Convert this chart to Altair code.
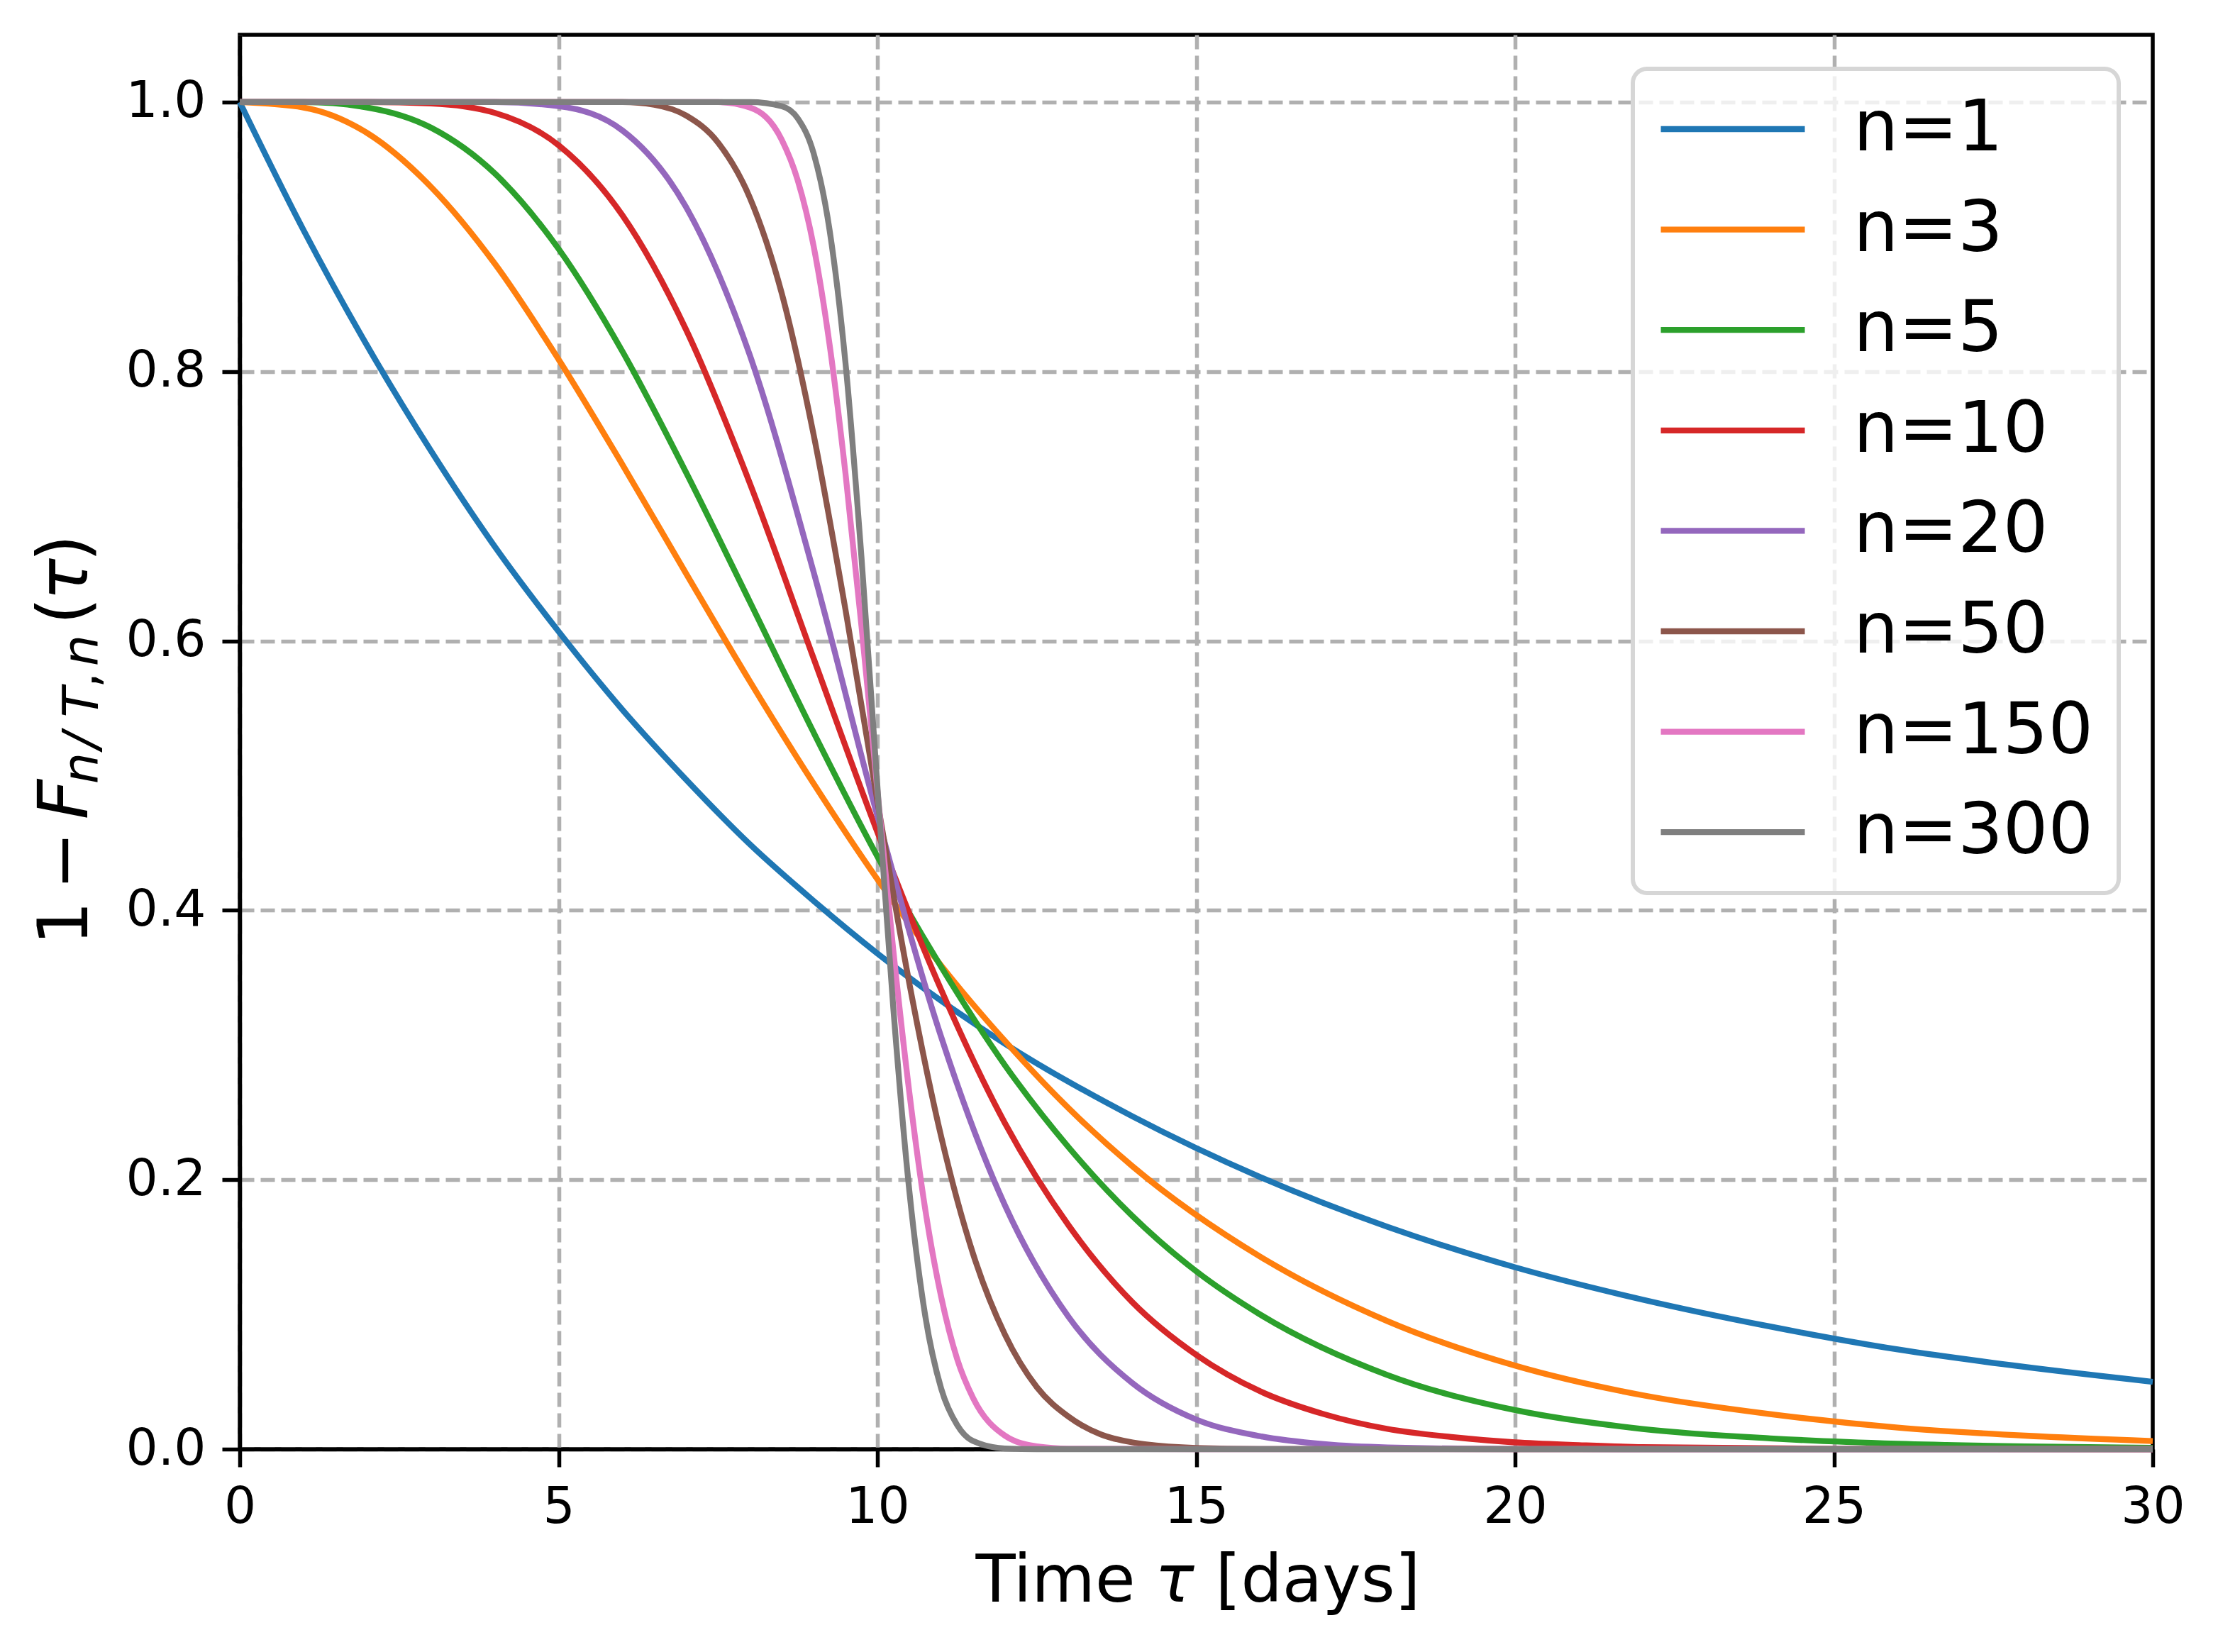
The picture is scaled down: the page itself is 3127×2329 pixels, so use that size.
import altair as alt
import pandas as pd

# ---------------- data ----------------
series_labels = ["n=1", "n=3", "n=5", "n=10", "n=20", "n=50", "n=150", "n=300"]
series_colors = ["#1f77b4", "#ff7f0e", "#2ca02c", "#d62728",
                 "#9467bd", "#8c564b", "#e377c2", "#7f7f7f"]

tau_n1 = [0, 1, 2, 3, 4, 5, 6, 7, 8, 9, 10, 12, 14, 16, 18, 20, 22, 24, 26, 28, 30]
surv_n1 = [1.0, 0.905, 0.819, 0.741, 0.670, 0.607, 0.549, 0.497, 0.449, 0.407, 0.368,
           0.301, 0.247, 0.202, 0.165, 0.135, 0.111, 0.091, 0.074, 0.061, 0.050]

tau_n3 = [0, 1, 2, 3, 4, 5, 6, 7, 8, 9, 10, 11, 12, 13, 14, 16, 18, 20, 22, 24, 26, 28, 30]
surv_n3 = [1.0, 0.996, 0.977, 0.937, 0.880, 0.809, 0.731, 0.650, 0.570, 0.494, 0.423,
           0.359, 0.303, 0.253, 0.210, 0.143, 0.095, 0.062, 0.040, 0.026, 0.016, 0.010, 0.006]

tau_n5 = [0, 1, 2, 3, 4, 5, 6, 7, 8, 9, 10, 11, 12, 13, 14, 15, 16, 18, 20, 22, 24, 26, 28, 30]
surv_n5 = [1.0, 1.0, 0.996, 0.981, 0.947, 0.891, 0.815, 0.725, 0.629, 0.532, 0.440, 0.358,
           0.285, 0.224, 0.173, 0.132, 0.100, 0.055, 0.029, 0.015, 0.008, 0.004, 0.002, 0.001]

tau_n10 = [0, 1, 2, 3, 4, 5, 6, 7, 8, 9, 10, 11, 12, 13, 14, 15, 16, 17, 18, 19, 20, 21, 22, 25, 30]
surv_n10 = [1.0, 1.0, 1.0, 0.999, 0.992, 0.968, 0.916, 0.831, 0.717, 0.587, 0.458, 0.341,
            0.242, 0.166, 0.109, 0.070, 0.043, 0.026, 0.015, 0.009, 0.005, 0.003, 0.0015,
            0.0002, 0.0]

tau_n20 = [0, 2, 4, 5, 6, 7, 8, 9, 10, 11, 12, 13, 14, 15, 16, 17, 18, 20, 22, 30]
surv_n20 = [1.0, 1.0, 1.0, 0.997, 0.979, 0.922, 0.812, 0.651, 0.470, 0.306, 0.181, 0.098,
            0.049, 0.022, 0.0096, 0.0037, 0.0013, 0.0001, 0.0, 0.0]

tau_n50 = [0, 3, 6, 6.5, 7, 7.5, 8, 8.5, 9, 9.5, 10, 10.5, 11, 11.5, 12, 12.5, 13, 13.5,
           14, 15, 16, 20, 30]
surv_n50 = [1.0, 1.0, 1.0, 0.998, 0.990, 0.970, 0.929, 0.858, 0.753, 0.623, 0.481, 0.346,
            0.232, 0.145, 0.085, 0.046, 0.024, 0.011, 0.005, 0.0009, 0.0001, 0.0, 0.0]

tau_n150 = [0, 4, 7.5, 8, 8.5, 8.75, 9, 9.25, 9.5, 9.75, 10, 10.25, 10.5, 10.75, 11,
            11.25, 11.5, 12, 12.5, 13, 15, 30]
surv_n150 = [1.0, 1.0, 1.0, 0.996, 0.972, 0.942, 0.893, 0.820, 0.724, 0.611, 0.489, 0.370,
             0.265, 0.178, 0.113, 0.067, 0.038, 0.010, 0.002, 0.0003, 0.0, 0.0]

tau_n300 = [0, 4, 8, 8.5, 8.75, 9, 9.25, 9.5, 9.75, 10, 10.25, 10.5, 10.75, 11, 11.25,
            11.5, 12, 12.5, 15, 30]
surv_n300 = [1.0, 1.0, 1.0, 0.997, 0.988, 0.962, 0.905, 0.806, 0.662, 0.492, 0.327, 0.192,
             0.099, 0.045, 0.018, 0.006, 0.0005, 0.0, 0.0, 0.0]

x_ticks = [0, 5, 10, 15, 20, 25, 30]
y_ticks = [0.0, 0.2, 0.4, 0.6, 0.8, 1.0]
# x-axis title "Time τ [days]" in pieces (τ set in italic)
xtitle_parts = ["Time", "τ", "[days]"]
# y-axis title "1 − F_{n/T,n}(τ)" in pieces (main text, subscript, argument)
ytitle_parts = ["1", "−", "F", "n", "/", "T", ",", "n", "(", "τ", ")"]

# ---------------- build table ----------------
taus = [tau_n1, tau_n3, tau_n5, tau_n10, tau_n20, tau_n50, tau_n150, tau_n300]
survs = [surv_n1, surv_n3, surv_n5, surv_n10, surv_n20, surv_n50, surv_n150, surv_n300]
rows = []
for lab, ts, ss in zip(series_labels, taus, survs):
    for t, s in zip(ts, ss):
        rows.append({"tau": t, "surv": s, "series": lab})
df = pd.DataFrame(rows)

FONT = "DejaVu Sans"
W, H = 2697, 1994

lines = alt.Chart(df).mark_line(
    strokeWidth=8.3, interpolate="monotone", strokeJoin="round"
).encode(
    x=alt.X("tau:Q",
            scale=alt.Scale(domain=[0, 30], nice=False, zero=False),
            axis=alt.Axis(values=x_ticks, format="d", title=None,
                          labelFlush=False, labelPadding=22,
                          gridOpacity={"condition": {"test": "datum.value >= 30", "value": 0},
                                       "value": 1})),
    y=alt.Y("surv:Q",
            scale=alt.Scale(domain=[0, 1.05], nice=False),
            axis=alt.Axis(values=y_ticks, format=".1f", title=None,
                          labelPadding=23)),
    color=alt.Color("series:N",
                    scale=alt.Scale(domain=series_labels, range=series_colors),
                    sort=series_labels,
                    title=None,
                    legend=alt.Legend(
                        orient="top-right", offset=48, padding=35,
                        fillColor="rgba(255,255,255,0.8)", strokeColor="#d6d6d6",
                        cornerRadius=20, symbolType="stroke", symbolSize=41209,
                        symbolStrokeWidth=8.3, clipHeight=100, rowPadding=41.6,
                        labelFontSize=100, labelFont=FONT, labelColor="black",
                        labelOffset=64, labelLimit=2000, zindex=1)),
)

texts = []


def piece(txt, xx, yy, fs, st, angle):
    return alt.Chart(pd.DataFrame({"label": [txt]})).mark_text(
        angle=angle, align="center", baseline="alphabetic",
        font=FONT, fontSize=fs, fontStyle=st, color="black"
    ).encode(text="label:N", x=alt.value(xx), y=alt.value(yy))


# y title pieces: (text, y centre in plot px, baseline x, size, style)
MAIN_X, SUB_X = -215, -200
y_specs = [
    (ytitle_parts[0], 1252.6, MAIN_X, 98, "normal"),
    (ytitle_parts[1], 1164.6, MAIN_X, 98, "normal"),
    (ytitle_parts[2], 1078.0, MAIN_X, 98, "italic"),
    (ytitle_parts[3], 1034.0, SUB_X, 70, "italic"),
    (ytitle_parts[4], 995.0, SUB_X, 70, "italic"),
    (ytitle_parts[5], 941.0, SUB_X, 70, "italic"),
    (ytitle_parts[6], 910.0, SUB_X, 70, "normal"),
    (ytitle_parts[7], 868.0, SUB_X, 70, "italic"),
    (ytitle_parts[8], 812.6, MAIN_X, 98, "normal"),
    (ytitle_parts[9], 768.0, MAIN_X, 98, "italic"),
    (ytitle_parts[10], 723.6, MAIN_X, 98, "normal"),
]
for txt, yy, xx, fs, st in y_specs:
    texts.append(piece(txt, xx, yy, fs, st, 270))

# x title pieces: (text, x centre in plot px, baseline y, style)
XT_Y = 2208.6
x_specs = [
    (xtitle_parts[0], 1150, XT_Y, "normal"),
    (xtitle_parts[1], 1318, XT_Y, "italic"),
    (xtitle_parts[2], 1520, XT_Y, "normal"),
]
for txt, xx, yy, st in x_specs:
    texts.append(piece(txt, xx, yy, 92, st, 0))

chart = alt.layer(lines, *texts).properties(
    width=W, height=H,
    autosize=alt.AutoSizeParams(type="none"),
    padding={"left": 330, "top": 41, "right": 80, "bottom": 270},
).configure_view(
    stroke="black", strokeWidth=5.5
).configure_axis(
    labelFont=FONT, labelFontSize=71, labelColor="black",
    tickColor="black", tickWidth=5.5, tickSize=25,
    domainColor="black", domainWidth=5.5,
    gridColor="#b0b0b0", gridWidth=5.5, gridDash=[20, 9],
).configure_legend(
    strokeWidth=6
)

chart.save("out.html", embed_options={"renderer": "svg", "actions": False})
